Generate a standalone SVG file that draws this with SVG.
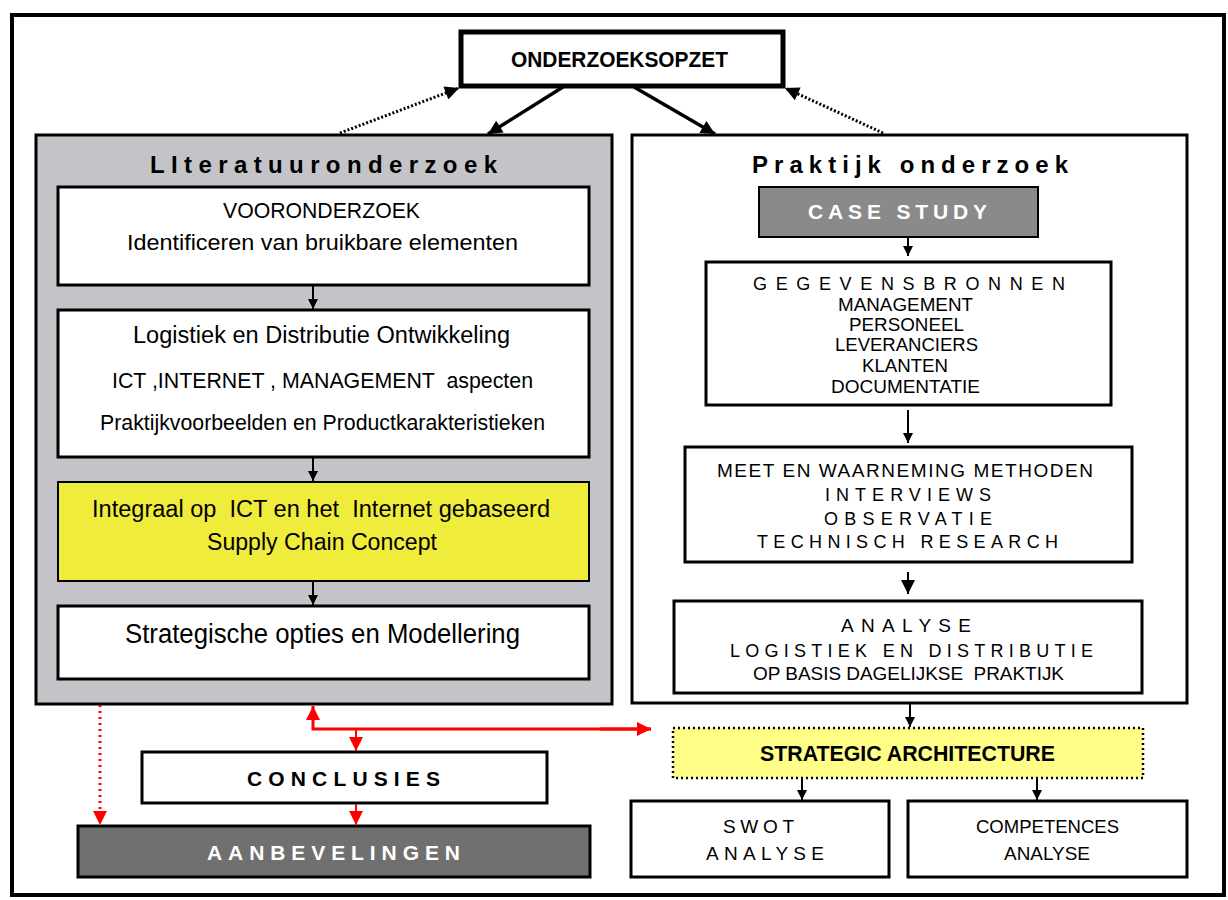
<svg xmlns="http://www.w3.org/2000/svg" width="1228" height="900" viewBox="0 0 1228 900">
<style>
text{font-family:"Liberation Sans Narrow","Liberation Sans",Arial,sans-serif;fill:#000;}
.b{font-weight:bold;}
.box{fill:#fff;stroke:#000;stroke-width:3;}
.con{stroke:#000;stroke-width:2;fill:none;}
.red{stroke:#ff0000;stroke-width:3;fill:none;}
</style>
<defs>
<marker id="ab" viewBox="0 0 10 10" refX="10" refY="5" markerWidth="10" markerHeight="10" markerUnits="userSpaceOnUse" orient="auto"><path d="M0,0 L10,5 L0,10 Z" fill="#000"/></marker>
<marker id="abl" viewBox="0 0 10 10" refX="10" refY="5" markerWidth="16" markerHeight="14" markerUnits="userSpaceOnUse" orient="auto"><path d="M0,0 L10,5 L0,10 Z" fill="#000"/></marker>
<marker id="ar" viewBox="0 0 10 10" refX="10" refY="5" markerWidth="14" markerHeight="14" markerUnits="userSpaceOnUse" orient="auto"><path d="M0,0 L10,5 L0,10 Z" fill="#ff0000"/></marker>
</defs>
<rect x="12" y="15" width="1212" height="880" fill="#fff" stroke="#000" stroke-width="4"/>

<g id="onderzoeksopzet">
<rect x="461" y="32" width="322" height="54" fill="#fff" stroke="#000" stroke-width="5"/>
<text x="511" y="67" class="b" font-size="22" textLength="217" lengthAdjust="spacingAndGlyphs">ONDERZOEKSOPZET</text>
</g>

<g id="literatuuronderzoek">
<rect x="36" y="135" width="576" height="569" fill="#c4c4c8" stroke="#000" stroke-width="3"/>
<text x="150" y="173" class="b" font-size="24" textLength="347" lengthAdjust="spacing">LIteratuuronderzoek</text>
</g>
<g id="vooronderzoek">
<rect x="58" y="187" width="531" height="98" class="box" stroke-width="2"/>
<text x="223" y="218" font-size="22" textLength="197" lengthAdjust="spacingAndGlyphs">VOORONDERZOEK</text>
<text x="127" y="250" font-size="22" textLength="391" lengthAdjust="spacingAndGlyphs">Identificeren van bruikbare elementen</text>
</g>
<g id="logistiek">
<rect x="58" y="310" width="531" height="147" class="box" stroke-width="2"/>
<text x="133" y="343" font-size="23" textLength="377" lengthAdjust="spacingAndGlyphs">Logistiek en Distributie Ontwikkeling</text>
<text x="112" y="388" font-size="22" textLength="421" lengthAdjust="spacingAndGlyphs" xml:space="preserve">ICT ,INTERNET , MANAGEMENT  aspecten</text>
<text x="100" y="430" font-size="22" textLength="445" lengthAdjust="spacingAndGlyphs">Praktijkvoorbeelden en Productkarakteristieken</text>
</g>
<g id="integraal">
<rect x="58" y="482" width="531" height="99" fill="#f0ec3c" stroke="#000" stroke-width="2"/>
<text x="92" y="517" font-size="23" textLength="458" lengthAdjust="spacingAndGlyphs" xml:space="preserve">Integraal op  ICT en het  Internet gebaseerd</text>
<text x="207" y="550" font-size="23" textLength="230" lengthAdjust="spacingAndGlyphs">Supply Chain Concept</text>
</g>
<g id="strategische">
<rect x="58" y="606" width="531" height="73" class="box" stroke-width="2"/>
<text x="125" y="643" font-size="27" textLength="395" lengthAdjust="spacingAndGlyphs">Strategische opties en Modellering</text>
</g>

<g id="praktijkonderzoek">
<rect x="632" y="135" width="555" height="568" fill="#fff" stroke="#000" stroke-width="3"/>
<text x="752" y="173" class="b" font-size="24" textLength="316" lengthAdjust="spacing">Praktijk onderzoek</text>
</g>
<g id="casestudy">
<rect x="759" y="187" width="279" height="50" fill="#8a8a8a" stroke="#000" stroke-width="2"/>
<text x="808" y="219" class="b" font-size="21" style="fill:#fff" textLength="179" lengthAdjust="spacing">CASE STUDY</text>
</g>
<g id="gegevensbronnen">
<rect x="706" y="262" width="405" height="143" class="box"/>
<text x="753" y="290" font-size="18" textLength="312" lengthAdjust="spacing">GEGEVENSBRONNEN</text>
<text x="838" y="311" font-size="18" textLength="135" lengthAdjust="spacingAndGlyphs">MANAGEMENT</text>
<text x="849" y="331" font-size="18" textLength="115" lengthAdjust="spacingAndGlyphs">PERSONEEL</text>
<text x="835" y="351" font-size="18" textLength="143" lengthAdjust="spacingAndGlyphs">LEVERANCIERS</text>
<text x="862" y="372" font-size="18" textLength="86" lengthAdjust="spacingAndGlyphs">KLANTEN</text>
<text x="831" y="393" font-size="18" textLength="149" lengthAdjust="spacingAndGlyphs">DOCUMENTATIE</text>
</g>
<g id="meet">
<rect x="685" y="447" width="447" height="115" class="box"/>
<text x="717" y="477" font-size="19" textLength="376" lengthAdjust="spacing">MEET EN WAARNEMING METHODEN</text>
<text x="825" y="501" font-size="18" textLength="166" lengthAdjust="spacing">INTERVIEWS</text>
<text x="824" y="525" font-size="18" textLength="168" lengthAdjust="spacing">OBSERVATIE</text>
<text x="757" y="548" font-size="18" textLength="301" lengthAdjust="spacing">TECHNISCH RESEARCH</text>
</g>
<g id="analyse">
<rect x="674" y="601" width="468" height="92" class="box"/>
<text x="841" y="632" font-size="19" textLength="130" lengthAdjust="spacing">ANALYSE</text>
<text x="730" y="657" font-size="18" textLength="363" lengthAdjust="spacing">LOGISTIEK EN DISTRIBUTIE</text>
<text x="753" y="680" font-size="18" textLength="311" lengthAdjust="spacingAndGlyphs" xml:space="preserve">OP BASIS DAGELIJKSE  PRAKTIJK</text>
</g>

<g id="strategic-architecture">
<rect x="673" y="728" width="470" height="50" fill="#ffff88" stroke="#000" stroke-width="2.5" stroke-dasharray="2 3"/>
<text x="760" y="761" class="b" font-size="22" textLength="295" lengthAdjust="spacingAndGlyphs">STRATEGIC ARCHITECTURE</text>
</g>
<g id="swot">
<rect x="631" y="801" width="258" height="76" class="box"/>
<text x="723" y="833" font-size="19" textLength="71" lengthAdjust="spacing">SWOT</text>
<text x="706" y="860" font-size="19" textLength="118" lengthAdjust="spacing">ANALYSE</text>
</g>
<g id="competences">
<rect x="908" y="801" width="279" height="76" class="box"/>
<text x="976" y="833" font-size="19" textLength="143" lengthAdjust="spacingAndGlyphs">COMPETENCES</text>
<text x="1004" y="860" font-size="19" textLength="86" lengthAdjust="spacingAndGlyphs">ANALYSE</text>
</g>

<g id="conclusies">
<rect x="142" y="752" width="405" height="51" class="box"/>
<text x="247" y="786" class="b" font-size="21" textLength="193" lengthAdjust="spacing">CONCLUSIES</text>
</g>
<g id="aanbevelingen">
<rect x="78" y="826" width="512" height="51" fill="#707070" stroke="#000" stroke-width="3"/>
<text x="207" y="860" class="b" font-size="21" style="fill:#fff" textLength="253" lengthAdjust="spacing">AANBEVELINGEN</text>
</g>

<g id="connectors">
<line x1="563" y1="87" x2="488" y2="134" stroke="#000" stroke-width="3.5" marker-end="url(#abl)"/>
<line x1="634" y1="87" x2="715" y2="134" stroke="#000" stroke-width="3.5" marker-end="url(#abl)"/>
<line x1="340" y1="133" x2="459" y2="88" stroke="#000" stroke-width="3" stroke-dasharray="2 2" marker-end="url(#abl)"/>
<line x1="883" y1="133" x2="785" y2="88" stroke="#000" stroke-width="3" stroke-dasharray="2 2" marker-end="url(#abl)"/>
<line x1="313" y1="286" x2="313" y2="309" class="con" marker-end="url(#ab)"/>
<line x1="313" y1="458" x2="313" y2="481" class="con" marker-end="url(#ab)"/>
<line x1="313" y1="582" x2="313" y2="605" class="con" marker-end="url(#ab)"/>
<line x1="908" y1="238" x2="908" y2="256" class="con" marker-end="url(#ab)"/>
<line x1="908" y1="410" x2="908" y2="443" class="con" marker-end="url(#ab)"/>
<line x1="908" y1="572" x2="908" y2="594" class="con" marker-end="url(#abl)"/>
<line x1="910" y1="704" x2="910" y2="727" class="con" marker-end="url(#ab)"/>
<line x1="802" y1="779" x2="802" y2="800" class="con" marker-end="url(#ab)"/>
<line x1="1037" y1="779" x2="1037" y2="800" class="con" marker-end="url(#ab)"/>
<line x1="100" y1="705" x2="100" y2="825" stroke="#ff0000" stroke-width="3" stroke-dasharray="2 4" marker-end="url(#ar)"/>
<polyline points="651,729 313,729 313,706" class="red" marker-end="url(#ar)"/>
<line x1="600" y1="729" x2="651" y2="729" class="red" marker-end="url(#ar)"/>
<line x1="356" y1="729" x2="356" y2="751" stroke="#ff0000" stroke-width="2" marker-end="url(#ar)"/>
<line x1="356" y1="804" x2="356" y2="825" stroke="#ff0000" stroke-width="2" marker-end="url(#ar)"/>
</g>
</svg>
